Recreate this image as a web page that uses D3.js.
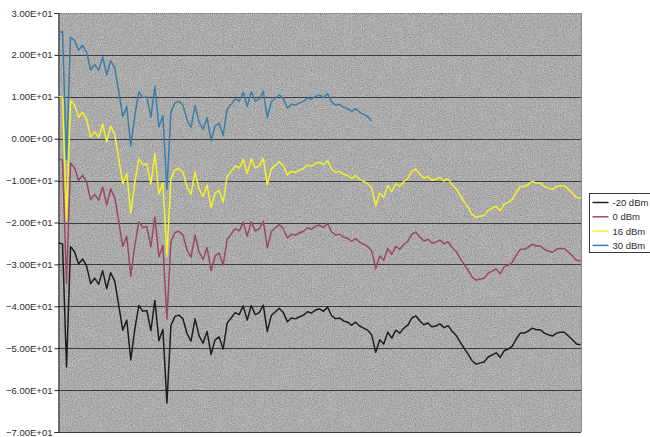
<!DOCTYPE html>
<html lang="en">
<head>
    <meta charset="UTF-8">
    <title>Power sweep</title>
</head>

<style>

body {
    margin: 0;
    background: #ffffff;
}

text {
    font-family: 'Liberation Sans', Arial, sans-serif;
    fill: #2a2a2a;
}

.grid line {
    stroke: #3c3c3c;
    stroke-width: 1;
}

.trace {
    fill: none;
    stroke-width: 1.5;
    stroke-linejoin: round;
}

</style>

<svg height="437" width="650"></svg>

<script src="https://d3js.org/d3.v7.min.js"></script>

<script>

    var seriesNames = ["-20 dBm", "0 dBm", "16 dBm", "30 dBm"];
    var seriesColors = ["#1e1e1e", "#9a4868", "#f2f22a", "#3c7ea6"];

    var yTicks = [30, 20, 10, 0, -10, -20, -30, -40, -50, -60, -70];

    var minus20 = [-24.9, -25.1, -54.5, -25.8, -27.0, -29.9, -28.7, -30.4, -34.6, -33.3,
        -34.7, -31.5, -35.8, -32.0, -34.0, -39.7, -45.7, -43.3, -52.8, -45.5,
        -39.8, -41.2, -41.0, -45.8, -38.6, -48.2, -45.5, -63.1, -44.6, -42.4,
        -42.1, -43.0, -46.5, -48.3, -43.0, -47.0, -48.8, -46.0, -51.5, -48.0,
        -47.3, -50.2, -44.0, -42.8, -41.5, -42.0, -39.9, -43.3, -39.8, -42.0,
        -41.5, -39.7, -46.0, -42.2, -41.3, -40.5, -41.5, -43.7, -42.8, -43.0,
        -42.5, -42.1, -41.3, -41.6, -40.9, -40.6, -41.2, -40.2, -42.2, -43.0,
        -42.8, -43.5, -43.8, -44.5, -43.8, -44.7, -45.2, -45.7, -46.8, -51.0,
        -48.0, -49.0, -46.2, -47.6, -45.7, -46.4, -45.2, -44.5, -42.8, -42.3,
        -43.5, -44.4, -44.0, -44.9, -44.7, -44.2, -45.1, -44.6, -45.9, -46.9,
        -48.5, -50.0, -51.4, -53.0, -53.8, -53.5, -53.3, -52.1, -51.6, -51.1,
        -52.2, -50.6, -50.2, -49.5, -47.8, -46.4, -46.4, -45.9, -45.2, -45.6,
        -45.6, -46.4, -46.8, -47.1, -46.4, -46.2, -46.2, -47.1, -48.0, -49.0,
        -49.2];

    var zero = [-4.9, -5.1, -34.5, -5.8, -7.0, -9.9, -8.7, -10.4, -14.6, -13.3,
        -14.7, -11.5, -15.8, -12.0, -14.0, -19.7, -25.7, -23.3, -32.8, -25.5,
        -19.8, -21.2, -21.0, -25.8, -18.6, -28.2, -25.5, -43.1, -24.6, -22.4,
        -22.1, -23.0, -26.5, -28.3, -23.0, -27.0, -28.8, -26.0, -31.5, -28.0,
        -27.3, -30.2, -24.0, -22.8, -21.5, -22.0, -19.9, -23.3, -19.8, -22.0,
        -21.5, -19.7, -26.0, -22.2, -21.3, -20.5, -21.5, -23.7, -22.8, -23.0,
        -22.5, -22.1, -21.3, -21.6, -20.9, -20.6, -21.2, -20.2, -22.2, -23.0,
        -22.8, -23.5, -23.8, -24.5, -23.8, -24.7, -25.2, -25.7, -26.8, -31.0,
        -28.0, -29.0, -26.2, -27.6, -25.7, -26.4, -25.2, -24.5, -22.8, -22.3,
        -23.5, -24.4, -24.0, -24.9, -24.7, -24.2, -25.1, -24.6, -25.9, -26.9,
        -28.5, -30.0, -31.4, -33.0, -33.8, -33.5, -33.3, -32.1, -31.6, -31.1,
        -32.2, -30.6, -30.2, -29.5, -27.8, -26.4, -26.4, -25.9, -25.2, -25.6,
        -25.6, -26.4, -26.8, -27.1, -26.4, -26.2, -26.2, -27.1, -28.0, -29.0,
        -29.2];

    var plus16 = [10.1, 9.9, -19.5, 9.2, 8.0, 5.1, 6.3, 4.6, 0.4, 1.7,
        0.3, 3.5, -0.8, 3.0, 1.0, -4.7, -10.7, -8.3, -17.8, -10.5,
        -4.8, -6.2, -6.0, -10.8, -3.6, -13.2, -10.5, -28.1, -9.6, -7.4,
        -7.1, -8.0, -11.5, -13.3, -8.0, -12.0, -13.8, -11.0, -16.5, -13.0,
        -12.3, -15.2, -9.0, -7.8, -6.5, -7.0, -4.9, -8.3, -4.8, -7.0,
        -6.5, -4.7, -11.0, -7.2, -6.3, -5.5, -6.5, -8.7, -7.8, -8.0,
        -7.5, -7.1, -6.3, -6.6, -5.9, -5.6, -6.2, -5.2, -7.2, -8.0,
        -7.8, -8.5, -8.8, -9.5, -8.8, -9.7, -10.2, -10.7, -11.8, -16.0,
        -13.0, -14.0, -11.2, -12.6, -10.7, -11.4, -10.2, -9.5, -7.8, -7.3,
        -8.5, -9.4, -9.0, -9.9, -9.7, -9.2, -10.1, -9.6, -10.9, -11.9,
        -13.5, -15.0, -16.4, -18.0, -18.8, -18.5, -18.3, -17.1, -16.6, -16.1,
        -17.2, -15.6, -15.2, -14.5, -12.8, -11.4, -11.4, -10.9, -10.2, -10.6,
        -10.6, -11.4, -11.8, -12.1, -11.4, -11.2, -11.2, -12.1, -13.0, -14.0,
        -14.2];

    // the 30 dBm sweep stops early
    var plus30 = [25.2, 25.6, -5.0, 24.2, 23.4, 21.1, 22.3, 20.6, 16.4, 17.7,
        16.3, 19.5, 15.2, 18.6, 17.0, 11.3, 5.3, 7.7, -1.8, 5.5,
        11.2, 9.8, 10.0, 5.2, 12.4, 2.8, 5.5, -12.1, 6.4, 8.6,
        8.9, 8.0, 4.5, 2.7, 8.0, 4.0, 2.2, 5.0, -0.5, 3.0,
        3.7, 0.8, 7.0, 8.2, 9.5, 9.0, 11.1, 7.7, 11.2, 9.0,
        9.5, 11.3, 5.0, 8.8, 9.7, 10.5, 9.5, 7.3, 8.2, 8.0,
        8.5, 8.9, 9.7, 9.4, 10.1, 10.4, 9.8, 10.8, 8.8, 8.0,
        8.2, 7.5, 7.2, 6.5, 7.2, 6.3, 5.8, 5.3, 4.2];

    var allSeries = [minus20, zero, plus16, plus30];

    var translate = function(left, top) {
        return "translate(" + left + "," + top + ")";
    };

    var excelSci = function(v) {
        var parts = d3.format(".2e")(v).split("e");
        var exp = +parts[1];
        var sign = exp < 0 ? "-" : "+";
        var digits = ("0" + Math.abs(exp)).slice(-2);
        return parts[0] + "E" + sign + digits;
    };

    var svg = d3.select("svg"),
        margins = {top: 13, right: 69, bottom: 5, left: 58};

    var plotWidth = +svg.attr("width") - margins.left - margins.right;
    var plotHeight = +svg.attr("height") - margins.top - margins.bottom;

    // grainy scanned-paper look for the plot area
    var defs = svg.append("defs");
    var grain = defs.append("filter")
        .attr("id", "grain")
        .attr("x", 0).attr("y", 0)
        .attr("width", "100%").attr("height", "100%")
        .attr("color-interpolation-filters", "sRGB");
    grain.append("feTurbulence")
        .attr("type", "fractalNoise")
        .attr("baseFrequency", 0.9)
        .attr("numOctaves", 2)
        .attr("seed", 7);
    grain.append("feColorMatrix")
        .attr("type", "matrix")
        .attr("values", "0.33 0.33 0.33 0 0  0.33 0.33 0.33 0 0  0.33 0.33 0.33 0 0  0 0 0 0 1");
    var transfer = grain.append("feComponentTransfer");
    ["feFuncR", "feFuncG", "feFuncB"].forEach(function(f) {
        transfer.append(f).attr("type", "linear").attr("slope", 0.55).attr("intercept", 0.4);
    });
    grain.append("feGaussianBlur").attr("stdDeviation", 0.35);

    var chart = svg.append("g")
        .attr("transform", translate(margins.left, margins.top));

    chart.append("rect")
        .attr("width", plotWidth)
        .attr("height", plotHeight)
        .attr("filter", "url(#grain)");

    var xScale = d3.scaleLinear().domain([0, minus20.length - 1]).range([0.5, plotWidth - 0.5]);
    var yScale = d3.scaleLinear().domain([-70, 30]).range([plotHeight, 0]);

    // horizontal grid lines
    chart.append("g")
        .attr("class", "grid")
        .selectAll("line")
        .data(yTicks)
        .enter()
        .append("line")
        .attr("x1", 0)
        .attr("x2", plotWidth)
        .attr("y1", function(d) { return Math.round(yScale(d)) + 0.5; })
        .attr("y2", function(d) { return Math.round(yScale(d)) + 0.5; })
        .style("stroke", function(d) { return d == 30 ? "#7a7a7a" : null; })
        .style("stroke-dasharray", function(d) { return d == 30 ? "1,1" : null; });

    // right edge of the plot area
    chart.append("line")
        .attr("x1", plotWidth + 0.5).attr("x2", plotWidth + 0.5)
        .attr("y1", 0).attr("y2", plotHeight)
        .attr("stroke", "#8a8a8a");

    var yAxis = d3.axisLeft(yScale)
        .tickValues(yTicks)
        .tickFormat(excelSci)
        .tickSize(4)
        .tickPadding(2);

    var axisGroup = chart.append("g")
        .attr("transform", translate(0.5, 0))
        .call(yAxis);

    axisGroup.select(".domain").attr("stroke", "#2a2a2a");
    axisGroup.selectAll(".tick line").attr("stroke", "#2a2a2a");
    axisGroup.selectAll(".tick text")
        .style("font-size", "9.5px")
        .attr("fill", "#2a2a2a");

    var line = d3.line()
        .x(function(d, i) { return xScale(i); })
        .y(function(d) { return yScale(d); });

    // draw in legend order, the 30 dBm trace ends up on top
    chart.selectAll(".trace")
        .data(allSeries)
        .enter()
        .append("path")
        .attr("class", "trace")
        .attr("d", line)
        .attr("stroke", function(d, i) { return seriesColors[i]; });

    // legend, cut off by the right edge like the original
    var legend = svg.append("g")
        .attr("transform", translate(589.5, 193.5));

    legend.append("rect")
        .attr("width", 80)
        .attr("height", 59)
        .attr("fill", "#ffffff")
        .attr("stroke", "#3a3a3a");

    var entryHeight = 14.3;

    var entries = legend.selectAll(".entry")
        .data(seriesNames)
        .enter()
        .append("g")
        .attr("class", "entry")
        .attr("transform", function(d, i) { return translate(0, 9 + i * entryHeight); });

    entries.append("line")
        .attr("x1", 3).attr("x2", 19)
        .attr("stroke-width", 1.5)
        .attr("stroke", function(d, i) { return seriesColors[i]; });

    entries.append("text")
        .text(function(d) { return d; })
        .attr("x", 23)
        .attr("y", 3.5)
        .style("font-size", "9.5px");

</script>
</html>
